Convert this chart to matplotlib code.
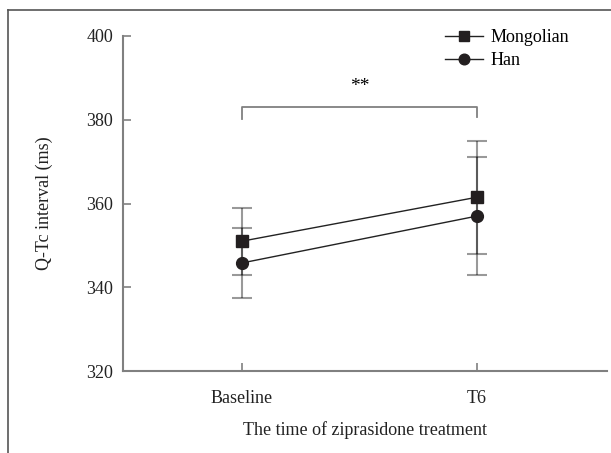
import matplotlib.pyplot as plt
from matplotlib.lines import Line2D

plt.rcParams['font.family'] = ['Liberation Serif', 'DejaVu Serif']

times = ["Baseline", "T6"]
mongolian_mean = [351.0, 361.5]
mongolian_sd = [8.0, 13.5]
han_mean = [345.8, 357.0]
han_sd = [8.3, 14.0]

x = list(range(len(times)))
grey = "#808080"

fig = plt.figure(figsize=(6.11, 4.53), dpi=100)
ax = fig.add_axes([123 / 611, 1 - 371 / 453, (607 - 123) / 611, (371 - 36) / 453])

for mean, sd, marker, ms, label in [
    (mongolian_mean, mongolian_sd, "s", 8.5, "Mongolian"),
    (han_mean, han_sd, "o", 8.5, "Han"),
]:
    ax.errorbar(x, mean, yerr=sd, fmt="none", ecolor="black", alpha=0.4,
                elinewidth=1.5, capsize=7, capthick=1.5, zorder=2)
    ax.plot(x, mean, color="#222222", lw=1.0, marker=marker, ms=ms,
            mfc="#231f20", mec="#231f20", label=label, zorder=3)

# significance bracket
ax.plot([0, 0, 1, 1], [380.2, 383.0, 383.0, 380.6], color=grey, lw=1.3)
ax.text(0.5, 388.0, "**", ha="center", va="center", fontsize=14)

ax.set_xlim(-0.506, 1.553)
ax.set_ylim(320, 400)
ax.set_yticks([320, 340, 360, 380, 400])
ax.set_xticks(x)
ax.set_xticklabels(times)

for s in ["top", "right"]:
    ax.spines[s].set_visible(False)
for s in ["left", "bottom"]:
    ax.spines[s].set_color(grey)
    ax.spines[s].set_linewidth(1.5)
ax.tick_params(direction="in", length=6, width=1.2, color=grey,
               labelsize=13, labelcolor="#222222")
ax.tick_params(axis="y", pad=7)
ax.tick_params(axis="x", pad=14)

ax.set_ylabel("Q-Tc interval (ms)", fontsize=13, color="#222222", labelpad=24)
ax.set_xlabel("The time of ziprasidone treatment", fontsize=13,
              color="#222222", labelpad=10)

fig.legend(loc="upper left", bbox_to_anchor=(445 / 611, 1 - 29 / 453),
           frameon=False, fontsize=13, handlelength=2.1, handletextpad=0.4,
           labelspacing=0.35, borderpad=0, borderaxespad=0, markerscale=0.9)

# outer frame lines (top and left)
fig.add_artist(Line2D([8 / 611, 1], [1 - 10 / 453, 1 - 10 / 453],
                      transform=fig.transFigure, color="#555555", lw=1.2))
fig.add_artist(Line2D([8 / 611, 8 / 611], [0, 1 - 10 / 453],
                      transform=fig.transFigure, color="#555555", lw=1.2))

fig.savefig("out.png", dpi=100)
